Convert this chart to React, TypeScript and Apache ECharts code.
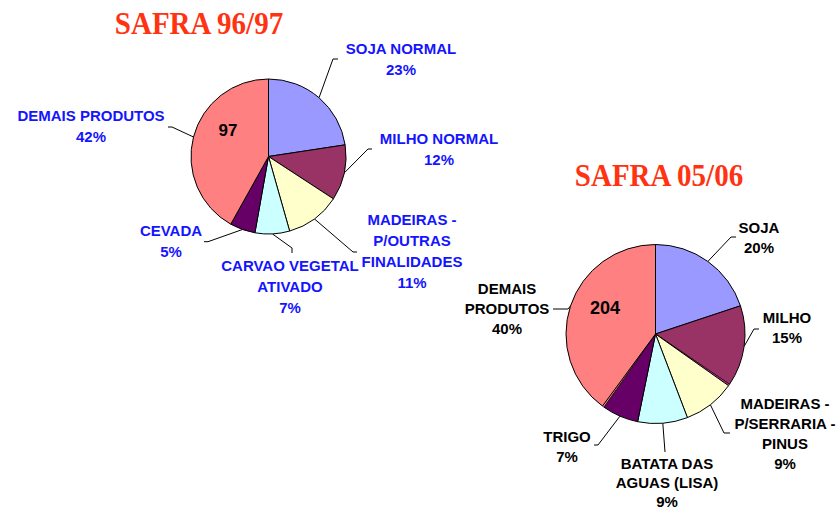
import React, { useEffect, useRef } from "react";
import * as echarts from "echarts";

// ---- data ----
const titles = ["SAFRA 96/97", "SAFRA 05/06"];
const totals = [97, 204];

const names1 = [
  "SOJA NORMAL",
  "MILHO NORMAL",
  "MADEIRAS -\nP/OUTRAS\nFINALIDADES",
  "CARVAO VEGETAL\nATIVADO",
  "CEVADA",
  "DEMAIS PRODUTOS",
];
const values1 = [22.6, 11.6, 11.4, 7.2, 5.3, 41.9];

const names2 = [
  "SOJA",
  "MILHO",
  "OUTROS",
  "MADEIRAS -\nP/SERRARIA -\nPINUS",
  "BATATA DAS\nAGUAS (LISA)",
  "TRIGO",
  "OUTROS ",
  "DEMAIS\nPRODUTOS",
];
const values2 = [19.9, 14.6, 0.3, 9.4, 9.0, 6.6, 0.3, 39.9];
const hidden2 = [false, false, true, false, false, false, true, false];

// ---- styles / layout ----
const colors1 = ["#9999FF", "#993366", "#FFFFCC", "#CCFFFF", "#660066", "#FF8080"];
const colors2 = ["#9999FF", "#993366", "#CC3399", "#FFFFCC", "#CCFFFF", "#660066", "#FF9980", "#FF8080"];

// [labelX, labelY, elbowX, elbowY, endX, endY, lineHeight?]
const layout1 = [
  [401, 59, 333, 59, 338, 59],
  [439, 149, 368, 149, 372, 149],
  [412, 251, 353, 252, 357, 252],
  [290, 286.5, 292, 248, 292, 253],
  [171, 241, 208, 241.7, 204, 241.7],
  [91, 125.5, 172, 127, 168, 127],
];
const layout2 = [
  [759, 237, 731, 237, 736, 237],
  [787, 327, 754, 329, 759, 329],
  null,
  [785, 433, 724, 433, 730, 433],
  [667, 482.5, 665, 452, 665, 452],
  [567, 446, 598, 445, 594, 445],
  null,
  [507, 308, 568, 309, 553, 309],
];
const lineHeights2 = [20, 20, 20, 20, 19, 20, 20, 20];

const center1 = [268.5, 156.5];
const radius1 = 77.5;
const center2 = [655.5, 334];
const radius2 = 89.5;

function startPoint(values: number[], i: number, c: number[], r: number) {
  const total = values.reduce((a, b) => a + b, 0);
  let acc = 0;
  for (let k = 0; k < i; k++) acc += values[k];
  const mid = ((acc + values[i] / 2) / total) * Math.PI * 2;
  return [c[0] + r * Math.sin(mid), c[1] - r * Math.cos(mid)];
}

function makeLayout(layout: any[], values: number[], c: number[], r: number) {
  return (params: any) => {
    const L = layout[params.dataIndex];
    if (!L) return {};
    const start =
      params.labelLinePoints && params.labelLinePoints[0]
        ? params.labelLinePoints[0]
        : startPoint(values, params.dataIndex, c, r);
    return {
      x: L[0],
      y: L[1],
      align: "center",
      verticalAlign: "middle",
      labelLinePoints: [start, [L[2], L[3]], [L[4], L[5]]],
    };
  };
}

export default function App() {
  const ref = useRef<HTMLDivElement>(null);
  useEffect(() => {
    if (!ref.current) return;
    const chart = echarts.init(ref.current, undefined, { renderer: "svg" });
    const labelBase = {
      show: true,
      position: "outside",
      fontSize: 15,
      fontWeight: "bold",
      fontFamily: "Arial, 'Liberation Sans', sans-serif",
      formatter: (p: any) => `${p.name}\n${p.percent}%`,
    };
    chart.setOption({
      animation: false,
      backgroundColor: "#ffffff",
      series: [
        {
          type: "pie",
          center: center1,
          radius: radius1,
          startAngle: 90,
          clockwise: true,
          percentPrecision: 0,
          avoidLabelOverlap: false,
          label: { ...labelBase, color: "#1414FF", lineHeight: 21 },
          labelLine: { show: true, length: 8, length2: 8, lineStyle: { color: "#000", width: 1 } },
          labelLayout: makeLayout(layout1, values1, center1, radius1),
          itemStyle: { borderColor: "#000", borderWidth: 1 },
          emphasis: { disabled: true },
          data: names1.map((n, i) => ({
            name: n,
            value: values1[i],
            itemStyle: { color: colors1[i] },
          })),
        },
        {
          type: "pie",
          center: center2,
          radius: radius2,
          startAngle: 90,
          clockwise: true,
          percentPrecision: 0,
          avoidLabelOverlap: false,
          label: { ...labelBase, color: "#000000", lineHeight: 20 },
          labelLine: { show: true, length: 8, length2: 8, lineStyle: { color: "#000", width: 1 } },
          labelLayout: makeLayout(layout2, values2, center2, radius2),
          itemStyle: { borderColor: "#000", borderWidth: 1 },
          emphasis: { disabled: true },
          data: names2.map((n, i) => ({
            name: n,
            value: values2[i],
            itemStyle: { color: colors2[i], borderWidth: hidden2[i] ? 0.5 : 1 },
            label: { show: !hidden2[i], lineHeight: lineHeights2[i] },
            labelLine: { show: !hidden2[i] },
          })),
        },
      ],
      graphic: {
        elements: [
          {
            type: "text",
            x: 199,
            y: 24,
            scaleY: 1.08,
            z: 100,
            style: {
              text: titles[0],
              fill: "#FF3311",
              font: "bold 29px 'Times New Roman', 'Liberation Serif', serif",
              align: "center",
              verticalAlign: "middle",
            },
          },
          {
            type: "text",
            x: 659,
            y: 176,
            scaleY: 1.08,
            z: 100,
            style: {
              text: titles[1],
              fill: "#FF3311",
              font: "bold 29px 'Times New Roman', 'Liberation Serif', serif",
              align: "center",
              verticalAlign: "middle",
            },
          },
          {
            type: "text",
            x: 228,
            y: 130,
            z: 100,
            style: {
              text: String(totals[0]),
              fill: "#000",
              font: "bold 17px Arial, 'Liberation Sans', sans-serif",
              align: "center",
              verticalAlign: "middle",
            },
          },
          {
            type: "text",
            x: 605,
            y: 308,
            z: 100,
            style: {
              text: String(totals[1]),
              fill: "#000",
              font: "bold 18px Arial, 'Liberation Sans', sans-serif",
              align: "center",
              verticalAlign: "middle",
            },
          },
        ],
      },
    });
    return () => chart.dispose();
  }, []);
  return (
    <div
      ref={ref}
      style={{ position: "absolute", left: 0, top: 0, width: 839, height: 511, background: "#fff" }}
    />
  );
}
